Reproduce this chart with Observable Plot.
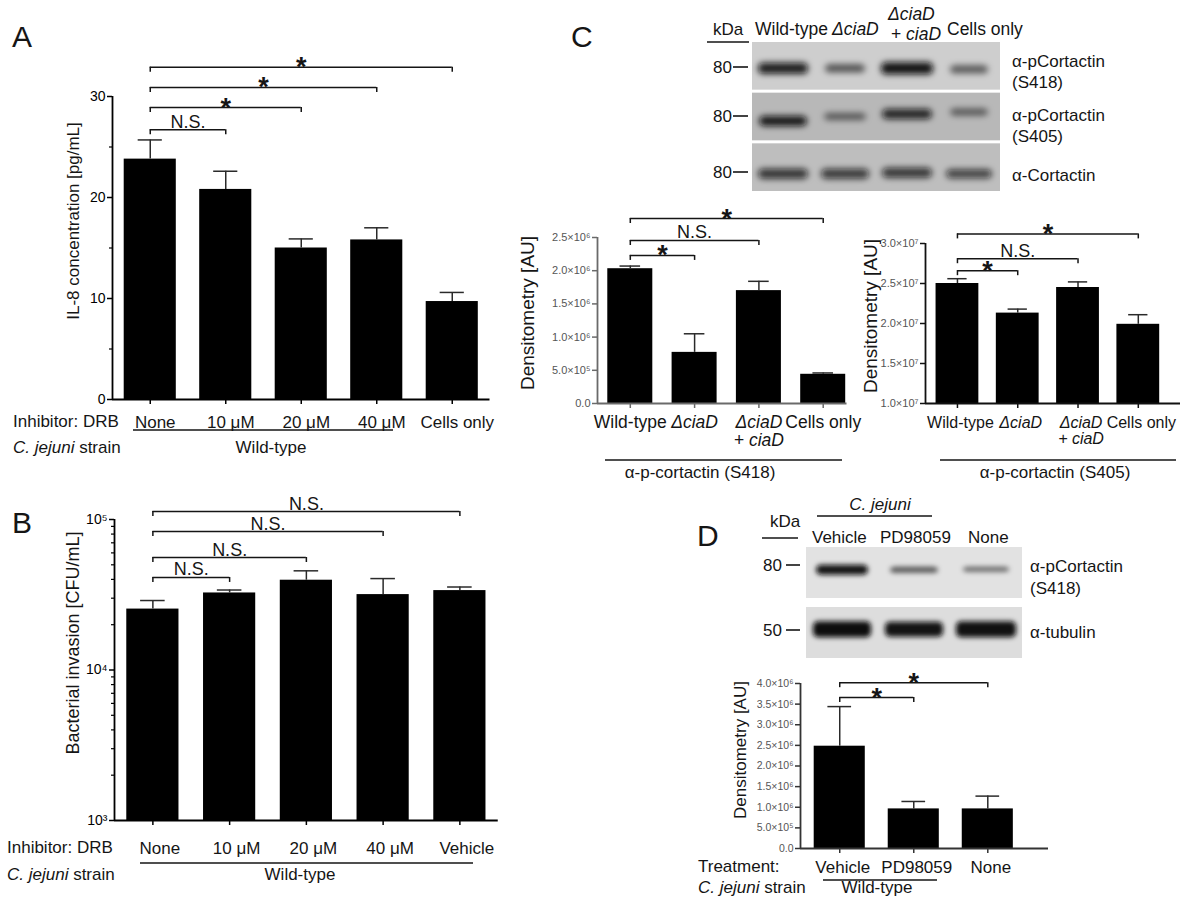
<!DOCTYPE html>
<html><head><meta charset="utf-8">
<script src="https://cdn.jsdelivr.net/npm/d3@7"></script>
<script src="https://cdn.jsdelivr.net/npm/@observablehq/plot@0.6"></script>
<style>
html,body{margin:0;padding:0;background:#fff;}
#fig{position:relative;width:1200px;height:900px;overflow:hidden;background:#fff;font-family:"Liberation Sans",Arial,Helvetica,sans-serif;}
</style></head>
<body><div id="fig"></div>
<script>
// ---------------- DATA ----------------
// Panel A: IL-8
const catsA = ["None", "10 μM", "20 μM", "40 μM", "Cells only"];
const il8Mean = [23.8, 20.8, 15.0, 15.8, 9.7];
const il8Sem = [1.9, 1.8, 0.9, 1.2, 0.9];
const bracketsA = [
  {from: 0, to: 1, level: 26.7, label: "N.S."},
  {from: 0, to: 2, level: 28.9, label: "*"},
  {from: 0, to: 3, level: 30.9, label: "*"},
  {from: 0, to: 4, level: 32.9, label: "*"}
];
const ticksA = [0, 10, 20, 30];
const minorA = [5, 15, 25];

// Panel B: invasion (log)
const catsB = ["None", "10 μM", "20 μM", "40 μM", "Vehicle"];
const invMean = [25400, 32500, 39500, 31700, 33700];
const invSem = [3550, 1500, 6100, 8800, 1900];
const bracketsB = [
  {from: 0, to: 1, level: 41200, label: "N.S."},
  {from: 0, to: 2, level: 55900, label: "N.S."},
  {from: 0, to: 3, level: 83200, label: "N.S."},
  {from: 0, to: 4, level: 113000, label: "N.S."}
];
const ticksB = [1e3, 1e4, 1e5];
const minorB = [2e3, 3e3, 4e3, 5e3, 6e3, 7e3, 8e3, 9e3, 2e4, 3e4, 4e4, 5e4, 6e4, 7e4, 8e4, 9e4];

// Panel C: densitometry
const catsC = ["Wild-type", "ΔciaD", "ΔciaD\n+ ciaD", "Cells only"];
const italicC = ["ΔciaD", "ΔciaD\n+ ciaD"];
const s418Mean = [2.03e6, 0.77e6, 1.70e6, 0.44e6];
const s418Sem = [0.04e6, 0.28e6, 0.14e6, 0.02e6];
const bracketsC1 = [
  {from: 0, to: 1, level: 2.23e6, label: "*"},
  {from: 0, to: 2, level: 2.455e6, label: "N.S."},
  {from: 0, to: 3, level: 2.786e6, label: "*"}
];
const ticksC1 = [0, 5e5, 1e6, 1.5e6, 2e6, 2.5e6];
const s405Mean = [2.50e7, 2.13e7, 2.45e7, 1.99e7];
const s405Sem = [0.06e7, 0.05e7, 0.07e7, 0.12e7];
const bracketsC2 = [
  {from: 0, to: 1, level: 2.66e7, label: "*"},
  {from: 0, to: 2, level: 2.81e7, label: "N.S."},
  {from: 0, to: 3, level: 3.12e7, label: "*"}
];
const ticksC2 = [1e7, 1.5e7, 2e7, 2.5e7, 3e7];

// Panel D
const catsD = ["Vehicle", "PD98059", "None"];
const dMean = [2.48e6, 0.96e6, 0.96e6];
const dSem = [0.96e6, 0.18e6, 0.31e6];
const bracketsD = [
  {from: 0, to: 1, level: 3.66e6, label: "*"},
  {from: 0, to: 2, level: 4.02e6, label: "*"}
];
const ticksD = [0, 5e5, 1e6, 1.5e6, 2e6, 2.5e6, 3e6, 3.5e6, 4e6];

// Blots (band darkness 0..1)
const lanesC = ["Wild-type", "ΔciaD", "ΔciaD + ciaD", "Cells only"];
const stripsC = ["α-pCortactin (S418)", "α-pCortactin (S405)", "α-Cortactin"];
const darkC = [[0.92, 0.62, 0.97, 0.58], [0.95, 0.55, 0.88, 0.55], [0.8, 0.76, 0.78, 0.72]];
const lanesD = ["Vehicle", "PD98059", "None"];
const stripsD = ["α-pCortactin (S418)", "α-tubulin"];
const darkD = [[0.97, 0.62, 0.55], [1, 0.97, 0.98]];

// ---------------- HELPERS ----------------
const FONT = '"Liberation Sans", Arial, Helvetica, sans-serif';
const fig = document.getElementById("fig");
const SUPS = "⁰¹²³⁴⁵⁶⁷⁸⁹";
const sup = n => String(n).split("").map(c => SUPS[+c]).join("");
const sci = d => { if (d === 0) return "0.0"; const e = Math.floor(Math.log10(d) + 1e-9); return (d / Math.pow(10, e)).toFixed(1) + "×10" + sup(e); };
const pow10 = d => "10" + sup(Math.round(Math.log10(d)));

function place(el, left, top) {
  el.style.position = "absolute";
  el.style.left = left + "px";
  el.style.top = top + "px";
  el.style.background = "transparent";
  el.style.overflow = "visible";
  el.style.maxWidth = "none";
  fig.appendChild(el);
}

function barPanel(p) {
  const ML = 95, MR = 20, MT = 75, MB = 60;
  const W = p.x1 - p.x0, H = p.y1 - p.y0;
  const data = p.cats.map((c, i) => ({i, c, v: p.mean[i], e: p.mean[i] + p.err[i]}));
  const ys = (p.log ? d3.scaleLog() : d3.scaleLinear()).domain(p.yDomain).range([H, 0]);
  const drop = v => ys.invert(ys(v) + 5);
  const br = p.brackets.map(b => ({...b, mid: (b.from + b.to) / 2, low: drop(b.level)}));
  const base = p.yDomain[0];
  const ax = p.axisColor || "#000";
  const ink = "#151515";
  const half = p.bar / 2, cap = 0.16;
  const ital = p.italic || [];
  const plain = data.filter(d => !ital.includes(d.c));
  const itl = data.filter(d => ital.includes(d.c));
  const catOpts = {x: "i", text: "c", frameAnchor: "bottom", lineAnchor: "top", dy: p.catDy, dx: p.catDx || 0, fontSize: p.catFont, fill: ink, lineHeight: 1.03};
  const marks = [
    Plot.rect(data, {x1: d => d.i - half, x2: d => d.i + half, y1: base, y2: "v", fill: "#000"}),
    Plot.ruleX(data, {x: "i", y1: "v", y2: "e", stroke: "#2a2a2a", strokeWidth: 1.5}),
    Plot.ruleY(data, {x1: d => d.i - cap, x2: d => d.i + cap, y: "e", stroke: "#2a2a2a", strokeWidth: 1.5}),
    Plot.ruleX([p.xDomain[0]], {y1: p.yDomain[0], y2: p.yDomain[1], stroke: ax, strokeWidth: 1.8}),
    Plot.ruleY([base], {x1: p.xDomain[0], x2: p.xDomain[1], stroke: ax, strokeWidth: 1.8}),
    Plot.axisY({ticks: p.ticks, tickFormat: p.fmt, tickSize: 5, tickPadding: 2, fontSize: p.tickFont, label: null, stroke: ax, fill: p.tickColor || ax, strokeWidth: 1.5}),
    Plot.axisX({ticks: data.map(d => d.i), tickFormat: () => "", tickSize: 5, label: null, stroke: ax, strokeWidth: 1.5}),
    Plot.text(plain, catOpts),
    Plot.text(itl, {...catOpts, fontStyle: "italic"}),
    Plot.ruleY(br, {x1: "from", x2: "to", y: "level", stroke: ink, strokeWidth: 1.5}),
    Plot.ruleX(br, {x: "from", y1: "level", y2: "low", stroke: ink, strokeWidth: 1.5}),
    Plot.ruleX(br, {x: "to", y1: "level", y2: "low", stroke: ink, strokeWidth: 1.5}),
    Plot.text(br.filter(b => b.label !== "*"), {x: "mid", y: "level", text: "label", lineAnchor: "bottom", dy: -2, fontSize: p.nsFont || 18, fill: ink}),
    Plot.text(br.filter(b => b.label === "*"), {x: "mid", y: "level", text: "label", lineAnchor: "bottom", dy: 9, fontSize: 27, fontWeight: "bold", fill: ink})
  ];
  if (p.minor) marks.push(Plot.axisY({ticks: p.minor, tickFormat: () => "", tickSize: 3, label: null, stroke: ax, strokeWidth: 1.2}));
  const el = Plot.plot({
    width: W + ML + MR, height: H + MT + MB,
    marginLeft: ML, marginRight: MR, marginTop: MT, marginBottom: MB,
    x: {domain: p.xDomain},
    y: {type: p.log ? "log" : "linear", domain: p.yDomain},
    style: {fontFamily: FONT, background: "transparent", overflow: "visible"},
    marks
  });
  place(el, p.x0 - ML, p.y0 - MT);
}

let blurId = 0;
function blot(p) {
  const W = p.x1 - p.x0, H = p.y1 - p.y0;
  const nL = p.lanes.length, nS = p.strips.length;
  const laneW = W / nL, unit = H / nS;
  const strips = p.strips.map((s, k) => ({k, s, bg: p.bg[k]}));
  const bands = p.strips.flatMap((s, k) => p.lanes.map((l, j) => ({
    k, j, a: p.dark[k][j],
    c: k + p.pos[k][j], hw: p.w[k][j] / laneW / 2, hh: p.h[k][j] / unit / 2
  })));
  const el = Plot.plot({
    width: W, height: H, marginLeft: 0, marginRight: 0, marginTop: 0, marginBottom: 0,
    x: {domain: [-0.5, nL - 0.5], axis: null},
    y: {domain: [0, nS], reverse: true, axis: null},
    color: {type: "identity"},
    style: {fontFamily: FONT, background: "transparent", overflow: "visible"},
    marks: [
      Plot.rect(strips, {x1: -0.5, x2: nL - 0.5, y1: "k", y2: d => d.k + 1, fill: "bg", insetBottom: p.gap}),
      Plot.rect(bands, {x1: d => d.j - d.hw, x2: d => d.j + d.hw, y1: d => d.c - d.hh, y2: d => d.c + d.hh,
        fill: "#0a0a0a", fillOpacity: "a", rx: p.rx, ariaDescription: "bands"})
    ]
  });
  const id = "blur" + (blurId++);
  const s = d3.select(el);
  const f = s.append("defs").append("filter").attr("id", id).attr("x", "-20%").attr("y", "-40%").attr("width", "140%").attr("height", "180%");
  f.append("feGaussianBlur").attr("stdDeviation", p.blur);
  let g = s.select('[aria-description="bands"]');
  if (g.empty()) g = d3.select(s.selectAll('g[aria-label="rect"]').nodes().pop());
  g.attr("filter", `url(#${id})`);
  place(el, p.x0, p.y0);
}

// ---------------- CHARTS ----------------
barPanel({cats: catsA, mean: il8Mean, err: il8Sem, brackets: bracketsA,
  x0: 112, x1: 489.5, y0: 96, y1: 399, xDomain: [-0.5, 4.5], yDomain: [0, 30],
  ticks: ticksA, minor: minorA, fmt: d3.format("d"), tickFont: 14, bar: 0.69,
  catFont: 17, catDy: 16, catDx: 5});

barPanel({cats: catsB, mean: invMean, err: invSem, brackets: bracketsB, log: true,
  x0: 114, x1: 497.75, y0: 519, y1: 820, xDomain: [-0.5, 4.5], yDomain: [1e3, 1e5],
  ticks: ticksB, minor: minorB, fmt: pow10, tickFont: 14, bar: 0.68,
  catFont: 17, catDy: 21, catDx: 7});

barPanel({cats: catsC, italic: italicC, mean: s418Mean, err: s418Sem, brackets: bracketsC1,
  x0: 597, x1: 846.5, y0: 237, y1: 403, xDomain: [-0.51, 3.37], yDomain: [0, 2.5e6],
  ticks: ticksC1, fmt: sci, tickFont: 11, bar: 0.7, axisColor: "#6a6a6a", tickColor: "#555",
  catFont: 17.5, catDy: 11.5, catDx: 0});

barPanel({cats: catsC, italic: italicC, mean: s405Mean, err: s405Sem, brackets: bracketsC2,
  x0: 925, x1: 1180, y0: 243, y1: 403, xDomain: [-0.53, 3.7], yDomain: [1e7, 3e7],
  ticks: ticksC2, fmt: sci, tickFont: 11, bar: 0.71, axisColor: "#111", tickColor: "#555",
  catFont: 16, catDy: 12.5, catDx: 3});

barPanel({cats: catsD, mean: dMean, err: dSem, brackets: bracketsD,
  x0: 800, x1: 1048, y0: 683, y1: 848, xDomain: [-0.53, 2.82], yDomain: [0, 4e6],
  ticks: ticksD, fmt: sci, tickFont: 10.5, bar: 0.69, axisColor: "#333", tickColor: "#555",
  catFont: 17, catDy: 12, catDx: 3});

// blots
blot({lanes: lanesC, strips: stripsC, dark: darkC, x0: 752, x1: 1000, y0: 42, y1: 194, gap: 3,
  bg: ["#cecece", "#b8b8b8", "#bebebe"],
  pos: [[0.52, 0.52, 0.52, 0.54], [0.56, 0.47, 0.42, 0.38], [0.6, 0.6, 0.58, 0.6]],
  w: [[50, 40, 52, 38], [48, 42, 50, 38], [50, 48, 50, 46]],
  h: [[11, 8, 12, 8], [10, 7, 10, 7], [10, 10, 10, 9]], rx: 5, blur: 3.2});

blot({lanes: lanesD, strips: stripsD, dark: darkD, x0: 806, x1: 1022, y0: 547, y1: 667, gap: 9,
  bg: ["#e2e2e2", "#dddddd"],
  pos: [[0.38, 0.38, 0.37], [0.37, 0.37, 0.37]],
  w: [[52, 48, 46], [58, 58, 60]],
  h: [[10, 6, 5], [16, 15, 16]], rx: 5, blur: 2.6});

// ---------------- ANNOTATION LAYER ----------------
const ov = d3.create("svg").attr("width", 1200).attr("height", 900)
  .style("position", "absolute").style("left", "0px").style("top", "0px")
  .style("font-family", FONT).style("pointer-events", "none");
fig.appendChild(ov.node());

function T(x, y, parts, o = {}) {
  const t = ov.append("text").attr("x", x).attr("y", y)
    .attr("font-size", o.size || 17).attr("text-anchor", o.anchor || "start").attr("fill", o.fill || "#151515");
  if (o.rotate) t.attr("transform", `rotate(-90 ${x} ${y})`).attr("dominant-baseline", "central");
  (Array.isArray(parts) ? parts : [[parts]]).forEach(([s, it]) => t.append("tspan").attr("font-style", it ? "italic" : null).text(s));
}
function L(x1, y1, x2, y2, w = 1.4, c = "#151515") {
  ov.append("line").attr("x1", x1).attr("y1", y1).attr("x2", x2).attr("y2", y2).attr("stroke", c).attr("stroke-width", w);
}

// panel letters
T(12, 47, "A", {size: 30});
T(12, 533, "B", {size: 30});
T(571, 47, "C", {size: 30});
T(697, 546, "D", {size: 30});

// A
T(73, 221, "IL-8 concentration [pg/mL]", {size: 17, anchor: "middle", rotate: true});
T(13, 427, "Inhibitor: DRB", {size: 17});
T(13, 453, [["C. jejuni", true], [" strain"]], {size: 17});
L(133, 430, 393, 430);
T(271, 453, "Wild-type", {size: 17, anchor: "middle"});

// B
T(73, 643, "Bacterial invasion [CFU/mL]", {size: 18, anchor: "middle", rotate: true});
T(7, 853, "Inhibitor: DRB", {size: 17});
T(7, 880, [["C. jejuni", true], [" strain"]], {size: 17});
L(140, 863, 473, 863);
T(300, 880, "Wild-type", {size: 17, anchor: "middle"});

// C blot labels
T(713, 35, "kDa", {size: 17});
L(707, 42, 749, 42, 1.6);
T(755, 35, "Wild-type", {size: 17.5});
T(832, 35, [["ΔciaD", true]], {size: 17.5});
T(888, 20, [["ΔciaD", true]], {size: 17.5});
T(891, 40, [["+ "], ["ciaD", true]], {size: 17.5});
T(947, 35, "Cells only", {size: 17.5});
[[67, 73], [116, 122], [172, 178]].forEach(([dy, by]) => { T(732, by, "80", {size: 17, anchor: "end"}); L(733, dy, 748, dy, 1.6); });
T(1012, 67, "α-pCortactin", {size: 17});
T(1012, 88, "(S418)", {size: 17});
T(1012, 121, "α-pCortactin", {size: 17});
T(1012, 142, "(S405)", {size: 17});
T(1012, 181, "α-Cortactin", {size: 17});
T(527, 313, "Densitometry [AU]", {size: 19, anchor: "middle", rotate: true});
T(870, 316, "Densitometry [AU]", {size: 19, anchor: "middle", rotate: true});
L(605, 460, 842, 460);
T(700, 478, "α-p-cortactin (S418)", {size: 17, anchor: "middle"});
L(940, 460, 1176, 460);
T(1055, 478, "α-p-cortactin (S405)", {size: 17, anchor: "middle"});

// D
T(880, 510, [["C. jejuni", true]], {size: 17, anchor: "middle"});
L(817, 516, 932, 516);
T(770, 527, "kDa", {size: 17});
L(762, 538, 798, 538, 1.6);
T(812, 543, "Vehicle", {size: 17});
T(880, 543, "PD98059", {size: 17});
T(968, 543, "None", {size: 17});
T(782, 571, "80", {size: 17, anchor: "end"}); L(786, 565, 800, 565, 1.6);
T(782, 636, "50", {size: 17, anchor: "end"}); L(786, 630, 800, 630, 1.6);
T(1030, 572, "α-pCortactin", {size: 17});
T(1030, 594, "(S418)", {size: 17});
T(1030, 638, "α-tubulin", {size: 17});
T(740, 750, "Densitometry [AU]", {size: 17, anchor: "middle", rotate: true});
T(698, 872, "Treatment:", {size: 17});
T(698, 893, [["C. jejuni", true], [" strain"]], {size: 17});
L(823, 880, 937, 880);
T(877, 893, "Wild-type", {size: 17, anchor: "middle"});
</script>
</body></html>
